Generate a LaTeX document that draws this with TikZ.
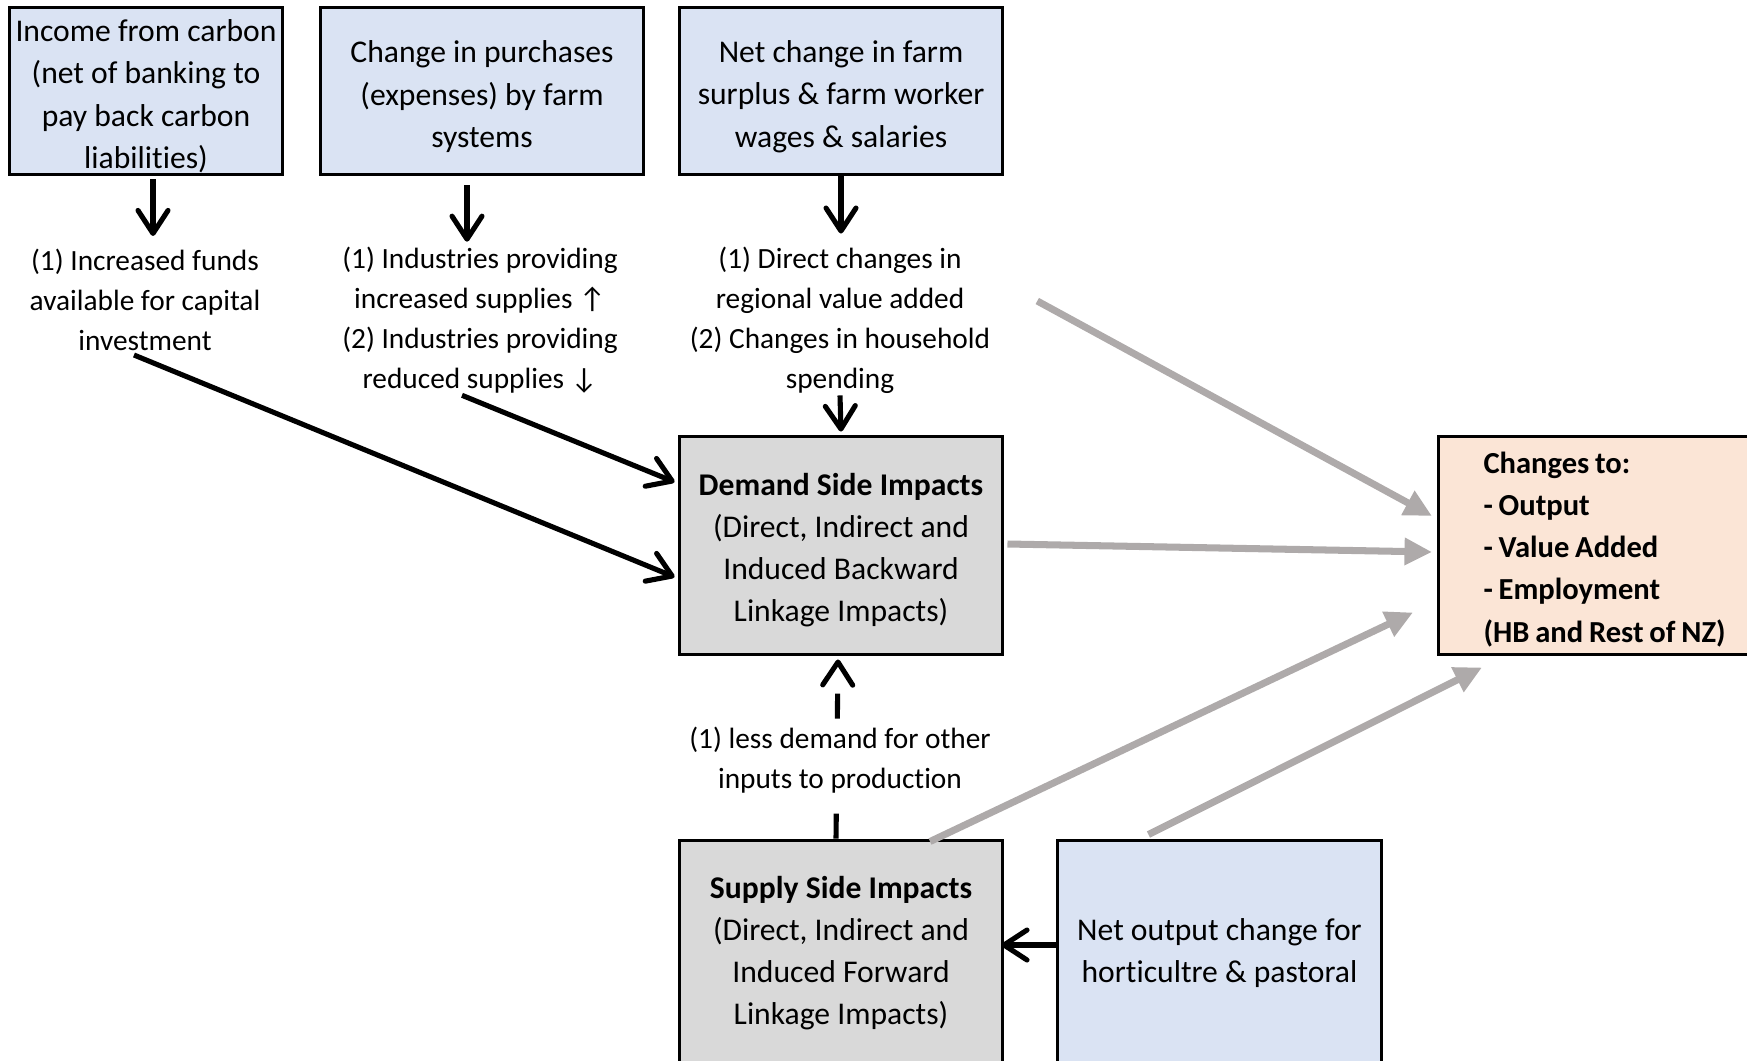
\documentclass[tikz,border=0pt]{standalone}
\usepackage{fontspec}
\setmainfont{Carlito}[Ligatures=NoCommon]
\usetikzlibrary{arrows.meta,calc}
\definecolor{boxblue}{HTML}{DAE3F3}
\definecolor{boxgray}{HTML}{D9D9D9}
\definecolor{boxpeach}{HTML}{FBE5D6}
\definecolor{arrgray}{HTML}{AEAAAA}
\newcommand{\topstrut}[1]{\rule{0pt}{#1}}
\newcommand{\tightsp}{\spaceskip=0.19em\relax}
\begin{document}
\begin{tikzpicture}[x=0.02cm,y=-0.02cm,
  box/.style={draw=black, line width=1.7pt, inner sep=0pt, align=center,
    font=\fontsize{18pt}{24pt}\selectfont},
  lbl/.style={inner sep=1pt, align=center, font=\fontsize{16.7pt}{22.8pt}\selectfont},
  blk/.style={draw=black, line width=2.9pt,
    -{Straight Barb[length=0.46cm,width=0.6cm,round]}},
  gry/.style={draw=arrgray, line width=4pt,
    -{Triangle[length=0.55cm,width=0.52cm]}}]
\useasboundingbox (0,0) rectangle (1747,1061);
\clip (0,0) rectangle (1747,1061);

% top boxes
\node[box, fill=boxblue, minimum width=5.48cm, minimum height=3.36cm] (b1) at (146,91)
  {\topstrut{18.5pt}Income from carbon\\(net of banking to\\pay back carbon\\liabilities)};
\node[box, fill=boxblue, minimum width=6.48cm, minimum height=3.36cm] (b2) at (482,91)
  {\topstrut{19pt}Change in purchases\\(expenses) by farm\\systems};
\node[box, fill=boxblue, minimum width=6.48cm, minimum height=3.36cm] (b3) at (841,91)
  {\topstrut{19pt}Net change in farm\\surplus \& farm worker\\wages \& salaries};

% labels
\node[lbl] (l1) at (145,300) {(1) Increased funds\\available for capital\\investment};
\node[lbl] (l2) at (480,320) {(1) Industries providing\\increased supplies ↑\\(2) Industries providing\\reduced supplies ↓};
\node[lbl] (l3) at (840,320) {(1) Direct changes in\\regional value added\\(2) Changes in household\\spending};

% middle boxes
\node[box, fill=boxgray, minimum width=6.48cm, minimum height=4.38cm] (dem) at (841,545.5)
  {\topstrut{17.7pt}\textbf{Demand Side Impacts}\\(Direct, Indirect and\\Induced Backward\\Linkage Impacts)};
\node[box, fill=boxpeach, anchor=west, align=left, text width=6cm, inner xsep=0.9cm,
  minimum height=4.38cm, font=\fontsize{17.4pt}{24pt}\selectfont\bfseries] (chg) at (1437,545.5)
  {\tightsp\topstrut{16.5pt}Changes to:\\\tightsp- Output\\\tightsp- Value Added\\\tightsp- Employment\\\tightsp(HB and Rest of NZ)};

% bottom boxes
\node[box, fill=boxgray, minimum width=6.48cm, minimum height=4.52cm] (sup) at (841,953)
  {\textbf{Supply Side Impacts}\\(Direct, Indirect and\\Induced Forward\\Linkage Impacts)};
\node[box, fill=boxblue, minimum width=6.5cm, minimum height=4.52cm] (net) at (1219.5,953)
  {Net output change for\\horticultre \& pastoral};

% dashed arrow behind label
\draw[blk, dash pattern=on 0.5cm off 0.7cm] ($(sup.north)+(-5,0)$) -- ($(dem.south)+(-3,3)$);
\node[lbl, fill=white, inner sep=3pt] (l4) at (840,760) {(1) less demand for other\\inputs to production};

% black arrows
\draw[blk] ($(b1.south)+(7,3)$) -- ($(l1.north)+(8,-11)$);
\draw[blk] ($(b2.south)+(-15,9)$) -- ($(l2.north)+(-13,-3)$);
\draw[blk] (b3.south) -- ($(l3.north)+(1,-11)$);
\draw[blk] ($(l1.south)+(-11,2)$) -- ($(dem.west)+(-3,31.5)$);
\draw[blk] ($(l2.south)+(-18,0)$) -- ($(dem.west)+(-3,-63.5)$);
\draw[blk] (l3.south) -- ($(dem.north)+(0,-3)$);
\draw[blk] ($(net.west)+(0,-8)$) -- ($(sup.east)+(-3,-8)$);

% gray arrows
\draw[gry] ($(l3.east)+(45,-19)$) -- ($(chg.west)+(-5,-29.5)$);
\draw[gry] ($(dem.east)+(3,-1.5)$) -- ($(chg.west)+(-5,6.5)$);
\draw[gry] ($(sup.north)+(89,3)$) -- ($(chg.south west)+(-24,-44)$);
\draw[gry] ($(net.north)+(-71,-4)$) -- ($(chg.south west)+(45,11)$);
\end{tikzpicture}
\end{document}
